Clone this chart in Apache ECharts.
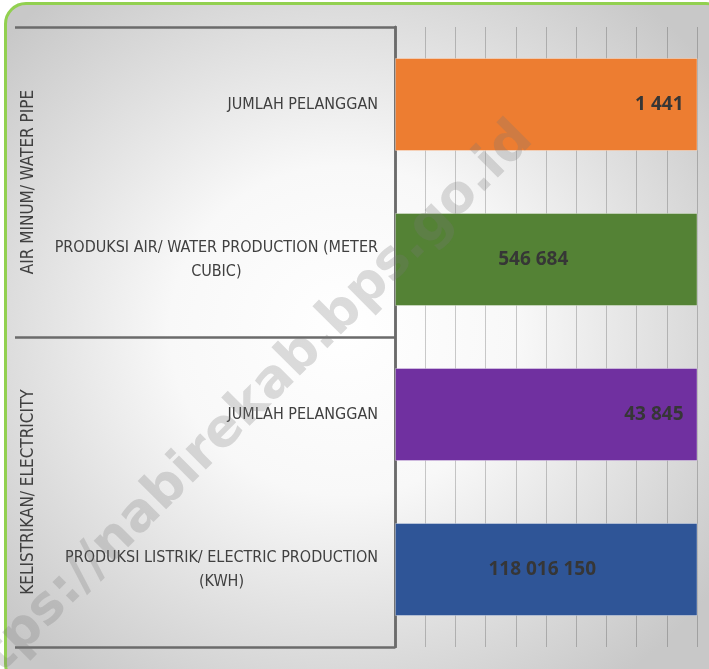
<!DOCTYPE html>
<html>
<head>
<meta charset="utf-8">
<title>Air Minum dan Kelistrikan</title>
<script src="https://cdn.jsdelivr.net/npm/echarts@6.0.0/dist/echarts.min.js"></script>
<style>
    html, body { margin: 0; padding: 0; width: 709px; height: 669px; overflow: hidden; background: #fff; }
    #frame {
        position: absolute; left: 4px; top: 2px; width: 724px; height: 684px;
        box-sizing: border-box; border: 3px solid #92d050; border-radius: 22px;
        background: radial-gradient(ellipse 64% 64% at 47% 48%, #ffffff 0%, #f8f8f8 38%, #c8c8c8 100%);
    }
    #main { position: absolute; left: 0; top: 0; width: 709px; height: 669px; }
</style>
</head>
<body>
<div id="frame"></div>
<div id="main"></div>
<script>
// data
var categories = [
    'JUMLAH PELANGGAN',
    'PRODUKSI AIR/ WATER PRODUCTION (METER\nCUBIC)',
    'JUMLAH PELANGGAN',
    'PRODUKSI LISTRIK/ ELECTRIC PRODUCTION\n(KWH)'
];
var groups = ['AIR MINUM/ WATER PIPE', 'KELISTRIKAN/ ELECTRICITY'];
var values = [1441, 546684, 43845, 118016150];
var xTicks = [0, 100, 200, 300, 400, 500, 600, 700, 800, 900, 1000];

// style
var barColors = ['#ED7D31', '#548235', '#7030A0', '#2F5597'];
var labelPos = ['insideRight', 'inside', 'insideRight', 'inside'];
var labelShift = [0, -13, 0, -4];
var narrow = '"DejaVu Sans Condensed", sans-serif';

function fmt(v) {
    return String(v).replace(/\B(?=(\d{3})+(?!\d))/g, ' ');
}

var chart = echarts.init(document.getElementById('main'));

var option = {
    backgroundColor: 'transparent',
    animation: false,
    grid: {
        left: 395,
        right: 12,
        top: 27,
        bottom: 22,
        containLabel: false,
        outerBoundsMode: 'none'
    },
    xAxis: {
        type: 'value',
        min: xTicks[0],
        max: xTicks[xTicks.length - 1],
        interval: xTicks[1] - xTicks[0],
        axisLine: { show: false },
        axisTick: { show: false },
        axisLabel: { show: false },
        splitLine: {
            lineStyle: { color: 'rgba(0,0,0,0.2)', width: 1 }
        }
    },
    yAxis: [
        {
            type: 'category',
            position: 'left',
            inverse: true,
            data: categories,
            axisLine: { lineStyle: { color: '#6b6b6b', width: 2.5 } },
            axisTick: { show: false },
            axisLabel: {
                interval: 0,
                margin: 17,
                formatter: function (v) {
                    return v.split('\n').map(function (s) { return '{c|' + s + '}'; }).join('\n');
                },
                rich: {
                    c: {
                        align: 'center',
                        color: '#404040',
                        fontSize: 16,
                        lineHeight: 24,
                        fontFamily: narrow
                    }
                }
            }
        },
        {
            // group level of the category axis
            type: 'category',
            position: 'left',
            offset: 0,
            inverse: true,
            data: groups,
            axisLine: { show: true, lineStyle: { color: '#6b6b6b', width: 2.5 } },
            axisTick: {
                show: true,
                interval: 0,
                length: 380,
                lineStyle: { color: '#6b6b6b', width: 2.5 }
            },
            axisLabel: {
                interval: 0,
                rotate: 90,
                margin: 358,
                color: '#404040',
                fontSize: 17,
                fontFamily: narrow
            }
        }
    ],
    series: [
        {
            type: 'bar',
            yAxisIndex: 0,
            barCategoryGap: '40%',
            clip: true,
            itemStyle: {
                borderColor: 'rgba(255,255,255,0.35)',
                borderWidth: 1
            },
            label: {
                show: true,
                distance: 14,
                color: '#363636',
                fontWeight: 'bold',
                fontSize: 19,
                fontFamily: '"Open Sans", sans-serif',
                formatter: function (p) { return fmt(p.value); }
            },
            data: values.map(function (v, i) {
                return {
                    value: v,
                    itemStyle: { color: barColors[i] },
                    label: { position: labelPos[i], offset: [labelShift[i], 0] }
                };
            })
        }
    ],
    graphic: [
        {
            type: 'text',
            x: 236,
            y: 420,
            rotation: Math.PI / 4,
            z: 100,
            silent: true,
            style: {
                text: 'https://nabirekab.bps.go.id',
                font: 'bold 53px "DejaVu Sans", sans-serif',
                fill: 'rgba(120,120,120,0.26)',
                align: 'center',
                verticalAlign: 'middle'
            }
        }
    ]
};

chart.setOption(option);
</script>
</body>
</html>
